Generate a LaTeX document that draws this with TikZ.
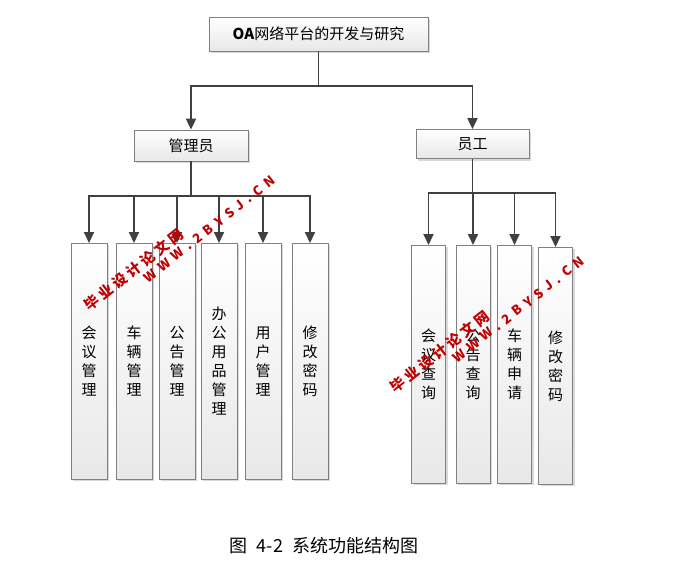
\documentclass[tikz,border=0pt]{standalone}
\usepackage{fontspec}
\setmainfont{Noto Sans CJK SC}
\newfontfamily\markfont{Noto Sans CJK SC}[LetterSpace=22]
\newfontfamily\marklatin{Noto Sans CJK SC}[LetterSpace=42]
\usetikzlibrary{arrows.meta,shadows}
\definecolor{linegray}{RGB}{64,64,64}
\definecolor{boxgray}{RGB}{128,128,128}
\definecolor{markred}{RGB}{192,0,0}
\tikzset{
  box/.style={draw=boxgray, line width=0.8pt, top color=white, bottom color=gray!18,
    drop shadow={shadow xshift=2pt, shadow yshift=-2pt, opacity=0.3},
    inner sep=0pt, font=\fontsize{15}{19}\selectfont},
  leaf/.style={box, anchor=north, minimum width=36pt, minimum height=236pt, align=center},
  sleaf/.style={leaf, minimum width=34pt, minimum height=238pt},
  arr/.style={draw=linegray, line width=1.9pt, -{Triangle[width=10pt,length=11pt]}},
  watermark/.style={text=markred, rotate=38, inner sep=0pt},
}
\begin{document}
\begin{tikzpicture}[x=1pt, y=-1pt]
    \useasboundingbox (0,0) rectangle (675,562);

    % Верхний уровень
    \node[box, minimum width=219pt, minimum height=34pt] (root) at (318.5,34) {\textbf{OA}网络平台的开发与研究};
    \node[box, minimum width=114pt, minimum height=31pt] (admin) at (191,145.5) {管理员};
    \node[box, minimum width=113pt, minimum height=29pt] (staff) at (472.5,144) {员工};

    % Функции администратора
    \node[leaf] (a1) at (89,243) {会\\议\\管\\理};
    \node[leaf] (a2) at (134,243) {车\\辆\\管\\理};
    \node[leaf] (a3) at (177,243) {公\\告\\管\\理};
    \node[leaf] (a4) at (219,243) {办\\公\\用\\品\\管\\理};
    \node[leaf] (a5) at (263,243) {用\\户\\管\\理};
    \node[leaf] (a6) at (310,243) {修\\改\\密\\码};

    % Функции сотрудника
    \node[sleaf] (s1) at (428.5,245) {会\\议\\查\\询};
    \node[sleaf] (s2) at (473,245) {公\\告\\查\\询};
    \node[sleaf] (s3) at (514.5,245) {车\\辆\\申\\请};
    \node[sleaf, minimum height=237pt] (s4) at (555.5,247) {修\\改\\密\\码};

    % Связи
    \draw[arr] (root.south) -- ++(0,35) -| (admin.north);
    \draw[arr] (root.south) -- ++(0,35) -| (staff.north);
    \foreach \i in {1,...,6}
        \draw[arr] (admin.south) -- ++(0,35) -| (a\i.north);
    \foreach \i in {1,...,4}
        \draw[arr] (staff.south) -- ++(0,34) -| (s\i.north);

    % Водяные знаки
    \node[watermark, font=\markfont\bfseries\fontsize{14.5}{14.5}\selectfont] (wm1) at (133.5,269.5) {毕业设计论文网};
    \node[watermark, font=\marklatin\bfseries\fontsize{13}{13}\selectfont] (wm2) at (209.5,229) {WWW.2BYSJ.CN};
    \node[watermark, font=\markfont\bfseries\fontsize{14.5}{14.5}\selectfont] (wm3) at (440,351.5) {毕业设计论文网};
    \node[watermark, font=\marklatin\bfseries\fontsize{13}{13}\selectfont] (wm4) at (518.5,309.5) {WWW.2BYSJ.CN};

    % Подпись
    \node[font=\fontsize{18}{18}\selectfont] (cap) at (324,546) {图\hspace{0.5em}4-2\hspace{0.5em}系统功能结构图};
\end{tikzpicture}
\end{document}
